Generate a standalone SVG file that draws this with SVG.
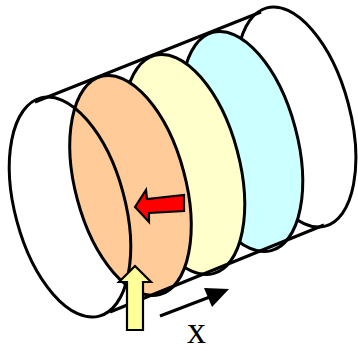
<svg xmlns="http://www.w3.org/2000/svg" width="358" height="351" viewBox="0 0 358 351">
<style>
.e{stroke:#000;stroke-width:3}
.c{fill:none;stroke:#000;stroke-width:3}
.a{stroke:#000;stroke-width:2.2;stroke-linejoin:miter}
</style>
<rect width="358" height="351" fill="#fff"/>
<g id="disc-right"><ellipse class="e" fill="#fff" cx="296" cy="117" rx="54" ry="113" transform="rotate(-15 296 117)"/></g>
<g id="disc-cyan"><ellipse class="e" fill="#ccffff" cx="242" cy="141.500" rx="55" ry="113" transform="rotate(-15 242 141.500)"/></g>
<g id="disc-yellow"><ellipse class="e" fill="#ffffcc" cx="184" cy="164.500" rx="55" ry="113" transform="rotate(-15 184 164.500)"/></g>
<g id="disc-orange"><ellipse class="e" fill="#ffcc99" cx="130.500" cy="185.500" rx="55" ry="113" transform="rotate(-15 130.500 185.500)"/></g>
<g id="disc-left"><ellipse class="e" fill="none" cx="70" cy="207" rx="55" ry="113" transform="rotate(-15 70 207)"/></g>
<g id="connectors">
<path class="c" d="M35 102L261 12"/>
<path class="c" d="M110 312L324 225"/>
</g>
<g id="arrow-red"><path class="a" fill="#ff0000" d="M135 207L146 190L147 199L184 195L184 211L149 213L149 222Z"/></g>
<g id="arrow-yellow"><path class="a" fill="#ffff99" d="M135 266L151 282L143 282L143 330L127 330L127 282L119 282Z"/></g>
<g id="arrow-x">
<path class="c" d="M160 316L215 295"/>
<path fill="#000" d="M229 289L204 288L212 307Z"/>
</g>
<g id="label-x"><text x="187" y="343" font-family="'Liberation Serif',serif" font-size="38">x</text></g>
</svg>
